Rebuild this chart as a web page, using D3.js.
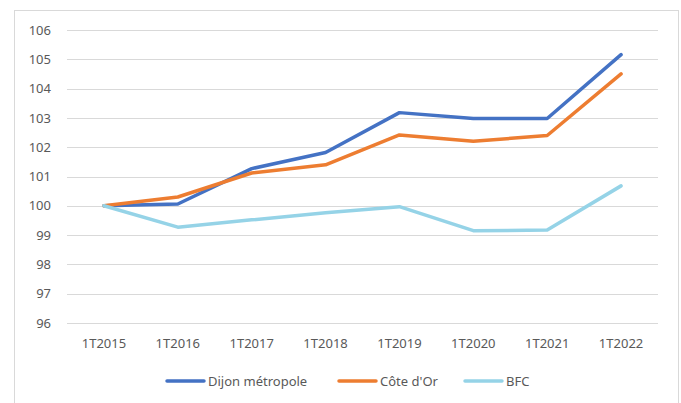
<html>
<script src="https://d3js.org/d3.v7.min.js"></script>
<style>
  body { margin: 0; background: white; }
  text { font-family: 'Noto Sans', 'Open Sans', sans-serif; fill: #595959; }
</style>
<body>
<svg class="chart" width="681" height="403"></svg>
<script>
  const quarters = ['1T2015', '1T2016', '1T2017', '1T2018', '1T2019', '1T2020', '1T2021', '1T2022'];
  const dijon = [100, 100.06, 101.27, 101.82, 103.18, 102.98, 102.98, 105.16];
  const coteDOr = [100, 100.3, 101.12, 101.4, 102.42, 102.2, 102.4, 104.5];
  const bfc = [100, 99.27, 99.52, 99.76, 99.97, 99.15, 99.17, 100.68];
  const yTicks = [96, 97, 98, 99, 100, 101, 102, 103, 104, 105, 106];
  const seriesNames = ['Dijon métropole', "Côte d'Or", 'BFC'];
  const colors = {'Dijon métropole': '#4472C4', "Côte d'Or": '#ED7D31', 'BFC': '#95D3E7'};

  const series = [
    {name: seriesNames[0], values: dijon},
    {name: seriesNames[1], values: coteDOr},
    {name: seriesNames[2], values: bfc}
  ];

  const svg = d3.select('svg');

  // chart area frame
  svg.append('rect')
    .attr('x', 14.5).attr('y', 10.5)
    .attr('width', 664).attr('height', 400)
    .attr('fill', 'white').attr('stroke', '#d9d9d9');

  var x = d3.scaleBand()
    .domain(quarters)
    .range([67, 658]);
  var y = d3.scaleLinear()
    .domain([96, 106])
    .range([323, 30]);

  // gridlines
  svg.append('g')
    .selectAll('line')
    .data(yTicks)
    .enter()
    .append('line')
      .attr('x1', 67).attr('x2', 658)
      .attr('y1', d => Math.round(y(d)) + 0.5)
      .attr('y2', d => Math.round(y(d)) + 0.5)
      .attr('stroke', '#d9d9d9')
      .attr('stroke-width', 1);

  // y axis
  svg.append('g')
    .attr('transform', 'translate(67,0)')
    .call(d3.axisLeft(y).tickValues(yTicks).tickSize(0).tickPadding(16).tickFormat(d3.format('d')))
    .call(g => g.select('.domain').remove())
    .selectAll('text')
      .style('font-size', '13px')
      .attr('fill', '#595959');

  // x axis
  svg.append('g')
    .attr('transform', 'translate(0,323)')
    .call(d3.axisBottom(x).tickSize(0).tickPadding(16))
    .call(g => g.select('.domain').remove())
    .selectAll('text')
      .style('font-size', '13px')
      .attr('fill', '#595959');

  // lines
  const line = d3.line()
    .x((d, i) => x(quarters[i]) + x.bandwidth() / 2)
    .y(d => y(d));

  svg.append('g')
    .selectAll('path')
    .data(series)
    .enter()
    .append('path')
      .attr('d', d => line(d.values))
      .attr('fill', 'none')
      .attr('stroke', d => colors[d.name])
      .attr('stroke-width', 3.5)
      .attr('stroke-linejoin', 'round')
      .attr('stroke-linecap', 'round');

  // legend
  const legendX = [167, 339, 465];
  const legend = svg.append('g')
    .selectAll('g')
    .data(seriesNames)
    .enter()
    .append('g')
      .attr('transform', (d, i) => 'translate(' + legendX[i] + ',381)');
  legend.append('line')
    .attr('x1', 0).attr('x2', 37)
    .attr('y1', 0).attr('y2', 0)
    .attr('stroke', d => colors[d])
    .attr('stroke-width', 3.5)
    .attr('stroke-linecap', 'round');
  legend.append('text')
    .attr('x', 41).attr('y', 0)
    .attr('dy', '0.35em')
    .style('font-size', '13px')
    .text(d => d);
</script>
</body>
</html>
